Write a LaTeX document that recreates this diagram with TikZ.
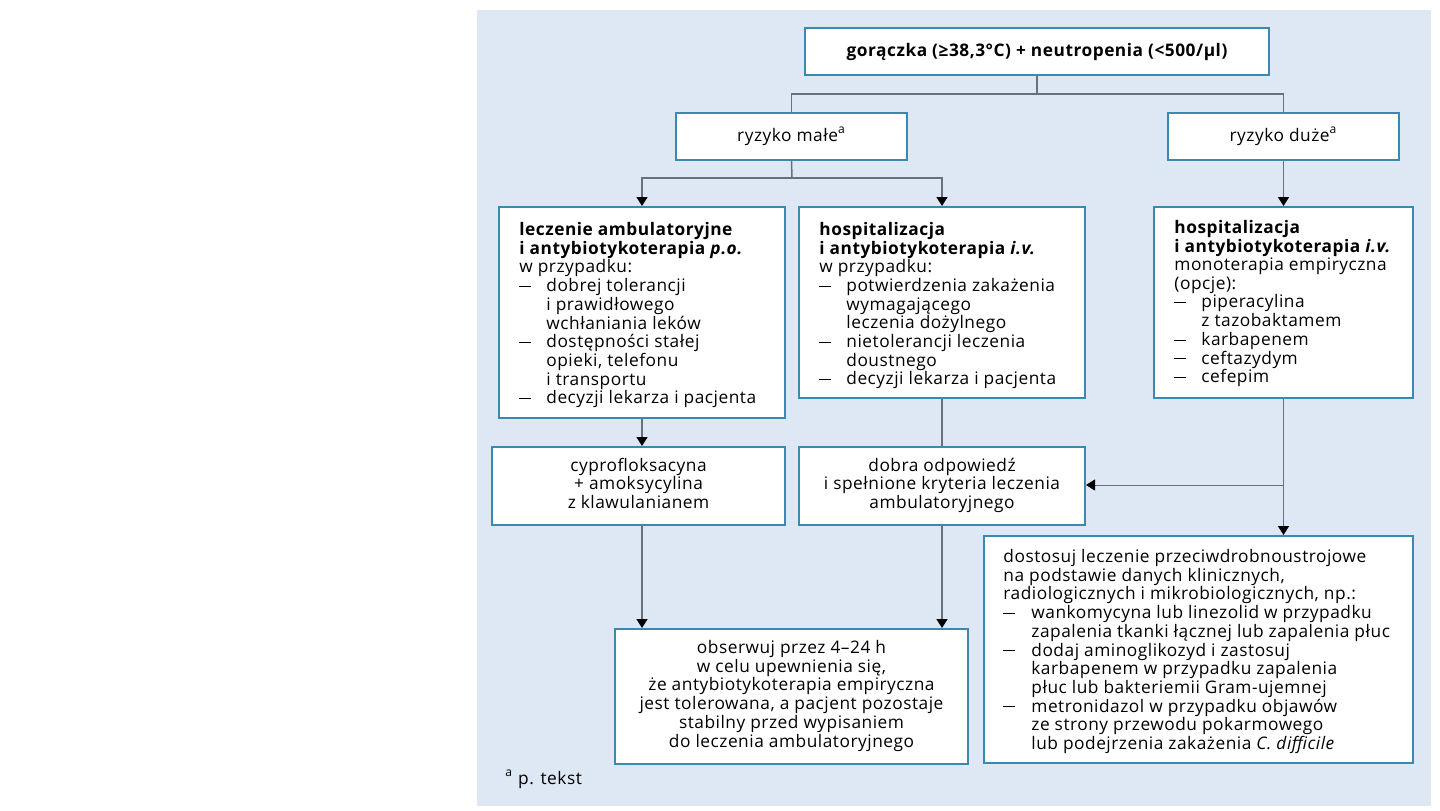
\documentclass[tikz,border=0pt]{standalone}
\usepackage{fontspec}
\setmainfont{Open Sans}[LetterSpace=3]
\usetikzlibrary{arrows.meta,calc}
\definecolor{bgblue}{RGB}{222,232,245}
\definecolor{boxblue}{RGB}{58,137,176}
\definecolor{linegray}{RGB}{105,112,125}
\newcommand{\hd}[1]{\multicolumn{2}{@{}l@{}}{#1}}
\newcommand{\dsh}{\rule[2.4pt]{6pt}{0.5pt}}
\begin{document}
\begin{tikzpicture}[x=0.5pt,y=-0.5pt,
  font=\fontsize{8.65}{9.25}\selectfont,
  box/.style={draw=boxblue, line width=1pt, fill=white, inner sep=0pt},
  txt/.style={inner sep=0pt, anchor=north west},
  conn/.style={draw=linegray, line width=0.75pt},
  arr/.style={conn, -{Triangle[width=5.5pt,length=4.5pt,color=black]}}]
\fill[white] (0,0) rectangle (1440,810);
\useasboundingbox (0,0) rectangle (1440,810);
\fill[bgblue] (477,10) rectangle (1431,806);

% top row
\node[box, minimum width=232pt, minimum height=23.5pt] (top) at (1037,51.5)
  {\bfseries gorączka (≥38,3°C) + neutropenia (<500/µl)};
\node[box, minimum width=115.5pt, minimum height=23.5pt] (lo) at (791.5,136.5)
  {ryzyko małe\textsuperscript{a}};
\node[box, minimum width=115.5pt, minimum height=23.5pt] (hi) at (1283.5,136.5)
  {ryzyko duże\textsuperscript{a}};

% second row boxes
\node[box, minimum width=143pt, minimum height=105.5pt] (A) at (642,312.5) {};
\node[txt] (At) at ($(A.north west)+(21,16)$) {\begin{tabular}{@{}p{13.5pt}@{}l@{}}
\hd{\bfseries leczenie ambulatoryjne}\\
\hd{\bfseries i antybiotykoterapia \textit{p.o.}}\\
\hd{w przypadku:}\\
\dsh & dobrej tolerancji\\
     & i prawidłowego\\
     & wchłaniania leków\\
\dsh & dostępności stałej\\
     & opieki, telefonu\\
     & i transportu\\
\dsh & decyzji lekarza i pacjenta
\end{tabular}};

\node[box, minimum width=143pt, minimum height=95.5pt] (B) at (942,302.5) {};
\node[txt] (Bt) at ($(B.north west)+(21,16)$) {\begin{tabular}{@{}p{13.5pt}@{}l@{}}
\hd{\bfseries hospitalizacja}\\
\hd{\bfseries i antybiotykoterapia \textit{i.v.}}\\
\hd{w przypadku:}\\
\dsh & potwierdzenia zakażenia\\
     & wymagającego\\
     & leczenia dożylnego\\
\dsh & nietolerancji leczenia\\
     & doustnego\\
\dsh & decyzji lekarza i pacjenta
\end{tabular}};

\node[box, minimum width=129.5pt, minimum height=95.5pt] (C) at (1283.5,302.5) {};
\node[txt] (Ct) at ($(C.north west)+(21,14)$) {\begin{tabular}{@{}p{13.5pt}@{}l@{}}
\hd{\bfseries hospitalizacja}\\
\hd{\bfseries i antybiotykoterapia \textit{i.v.}}\\
\hd{monoterapia empiryczna}\\
\hd{(opcje):}\\
\dsh & piperacylina\\
     & z tazobaktamem\\
\dsh & karbapenem\\
\dsh & ceftazydym\\
\dsh & cefepim
\end{tabular}};

% third row
\node[box, minimum width=146.5pt, minimum height=39pt] (D) at (638.5,486)
  {\begin{tabular}{@{}c@{}}cyprofloksacyna\\+ amoksycylina\\z klawulanianem\end{tabular}};
\node[box, minimum width=143pt, minimum height=39pt] (E) at (942,486)
  {\begin{tabular}{@{}c@{}}dobra odpowiedź\\i spełnione kryteria leczenia\\ambulatoryjnego\end{tabular}};

\node[box, minimum width=214.5pt, minimum height=113.5pt] (F) at (1198.5,649.5) {};
\node[txt] (Ft) at ($(F.north west)+(20,14)$) {\begin{tabular}{@{}p{14pt}@{}l@{}}
\hd{dostosuj leczenie przeciwdrobnoustrojowe}\\
\hd{na podstawie danych klinicznych,}\\
\hd{radiologicznych i mikrobiologicznych, np.:}\\
\dsh & wankomycyna lub linezolid w przypadku\\
     & zapalenia tkanki łącznej lub zapalenia płuc\\
\dsh & dodaj aminoglikozyd i zastosuj\\
     & karbapenem w przypadku zapalenia\\
     & płuc lub bakteriemii Gram-ujemnej\\
\dsh & metronidazol w przypadku objawów\\
     & ze strony przewodu pokarmowego\\
     & lub podejrzenia zakażenia \textit{C. difficile}
\end{tabular}};

\node[box, minimum width=176.5pt, minimum height=67.5pt] (G) at (791.5,696.5)
  {\begin{tabular}{@{}c@{}}obserwuj przez 4–24 h\\w celu upewnienia się,\\że antybiotykoterapia empiryczna\\jest tolerowana, a pacjent pozostaje\\stabilny przed wypisaniem\\do leczenia ambulatoryjnego\end{tabular}};

\node[anchor=base west, inner sep=0pt] (fn) at (505,784) {\textsuperscript{a} p. tekst};

% connectors
\coordinate (j1) at (1038,94);
\coordinate (j2) at (792,178);
\coordinate (j3) at (1283.5,485);
\draw[conn] (top.south) -- (top.south |- j1);
\draw[conn] (lo.north) |- (j1) -| (hi.north);
\draw[conn] (lo.south) -- (j2);
\draw[arr] (j2) -| (A.north);
\draw[arr] (j2) -| (B.north);
\draw[arr] (hi.south) -- (C.north);
\draw[arr] (A.south) -- (A.south |- D.north);
\draw[conn] (B.south) -- (E.north);
\draw[arr] (C.south) -- (C.south |- F.north);
\draw[conn, line width=0.5pt, -{Triangle[width=5.5pt,length=4.5pt,color=black]}] (j3) -- (j3 -| E.east);
\draw[arr] (A.south |- D.south) -- (A.south |- G.north);
\draw[arr] (E.south) -- (E.south |- G.north);
\end{tikzpicture}
\end{document}
